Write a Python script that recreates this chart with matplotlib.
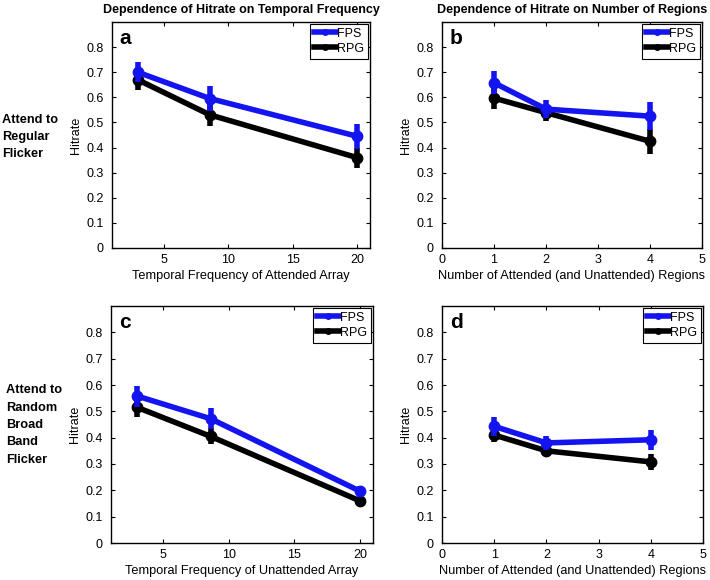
import matplotlib
matplotlib.use("Agg")
import matplotlib.pyplot as plt
from matplotlib.lines import Line2D

plt.rcParams['font.family'] = ['Liberation Sans', 'DejaVu Sans']

# Data
freq_x = [3, 8.6, 20]
regions_x = [1, 2, 4]

a_fps = [0.70, 0.595, 0.445]
a_fps_err = [0.04, 0.05, 0.05]
a_rpg = [0.67, 0.53, 0.36]
a_rpg_err = [0.04, 0.045, 0.04]

b_fps = [0.658, 0.553, 0.525]
b_fps_err = [0.045, 0.035, 0.055]
b_rpg = [0.597, 0.539, 0.425]
b_rpg_err = [0.045, 0.035, 0.05]

c_fps = [0.558, 0.472, 0.197]
c_fps_err = [0.04, 0.04, 0.02]
c_rpg = [0.515, 0.405, 0.16]
c_rpg_err = [0.035, 0.03, 0.015]

d_fps = [0.443, 0.38, 0.392]
d_fps_err = [0.037, 0.025, 0.037]
d_rpg = [0.41, 0.35, 0.308]
d_rpg_err = [0.025, 0.02, 0.03]

series_names = ["FPS", "RPG"]
yticks = [0, 0.1, 0.2, 0.3, 0.4, 0.5, 0.6, 0.7, 0.8]
yticklabels = ["0", "0.1", "0.2", "0.3", "0.4", "0.5", "0.6", "0.7", "0.8"]
freq_ticks = [5, 10, 15, 20]
region_ticks = [0, 1, 2, 3, 4, 5]

BLUE = '#1414f0'
BLACK = '#000000'

W, H = 710, 580
fig = plt.figure(figsize=(W / 100, H / 100), dpi=100)

def add_ax(l, r, t, b):
    return fig.add_axes([l / W, 1 - b / H, (r - l) / W, (b - t) / H])

panels = [
    (add_ax(112, 370, 22, 248), freq_x, a_fps, a_fps_err, a_rpg, a_rpg_err, 'a',
     'Temporal Frequency of Attended Array', (1, 21), freq_ticks),
    (add_ax(442, 702, 22, 248), regions_x, b_fps, b_fps_err, b_rpg, b_rpg_err, 'b',
     'Number of Attended (and Unattended) Regions', (0, 5), region_ticks),
    (add_ax(111, 373, 306, 543), freq_x, c_fps, c_fps_err, c_rpg, c_rpg_err, 'c',
     'Temporal Frequency of Unattended Array', (1, 21), freq_ticks),
    (add_ax(442, 703, 306, 543), regions_x, d_fps, d_fps_err, d_rpg, d_rpg_err, 'd',
     'Number of Attended (and Unattended) Regions', (0, 5), region_ticks),
]

for ax, xs, fps, fpse, rpg, rpge, letter, xlabel, xlim, xt in panels:
    ax.errorbar(xs, fps, yerr=fpse, color=BLUE, lw=4, marker='o', ms=7.5,
                elinewidth=4, capsize=0, zorder=3)
    ax.errorbar(xs, rpg, yerr=rpge, color=BLACK, lw=4, marker='o', ms=7.5,
                elinewidth=4, capsize=0, zorder=2)
    ax.set_xlim(*xlim)
    ax.set_ylim(0, 0.9)
    ax.set_xticks(xt)
    ax.set_xticklabels([str(v) for v in xt])
    ax.set_yticks(yticks)
    ax.set_yticklabels(yticklabels)
    ax.tick_params(direction='in', top=True, right=True, labelsize=9, length=3,
                   width=0.8)
    ax.tick_params(axis='x', pad=4)
    ax.tick_params(axis='y', pad=6)
    for s in ax.spines.values():
        s.set_linewidth(1.0)
    ax.set_xlabel(xlabel, fontsize=9.2, labelpad=3)
    ax.set_ylabel('Hitrate', fontsize=9, labelpad=3)
    ax.text(0.03, 0.97, letter, transform=ax.transAxes, fontsize=15,
            fontweight='bold', va='top', ha='left')
    handles = [Line2D([], [], color=BLUE, lw=4, marker='o', ms=4),
               Line2D([], [], color=BLACK, lw=4, marker='o', ms=4)]
    leg = ax.legend(handles, series_names, loc='upper right', fontsize=9,
                    handlelength=1.8, handletextpad=0.1, borderpad=0.3,
                    labelspacing=0.25, borderaxespad=0.15, fancybox=False,
                    framealpha=1)
    leg.get_frame().set_edgecolor('black')
    leg.get_frame().set_linewidth(0.8)

fig.text(241 / W, 1 - 10 / H, 'Dependence of Hitrate on Temporal Frequency',
         ha='center', va='center', fontsize=9, fontweight='bold')
fig.text(572 / W, 1 - 10 / H, 'Dependence of Hitrate on Number of Regions',
         ha='center', va='center', fontsize=9, fontweight='bold')

fig.text(2 / W, 1 - 137 / H, 'Attend to\nRegular\nFlicker', ha='left', va='center',
         fontsize=9.2, fontweight='bold', linespacing=1.6)
fig.text(6 / W, 1 - 425 / H, 'Attend to\nRandom\nBroad\nBand\nFlicker', ha='left',
         va='center', fontsize=9.2, fontweight='bold', linespacing=1.6)

fig.savefig('out.png', dpi=100)
